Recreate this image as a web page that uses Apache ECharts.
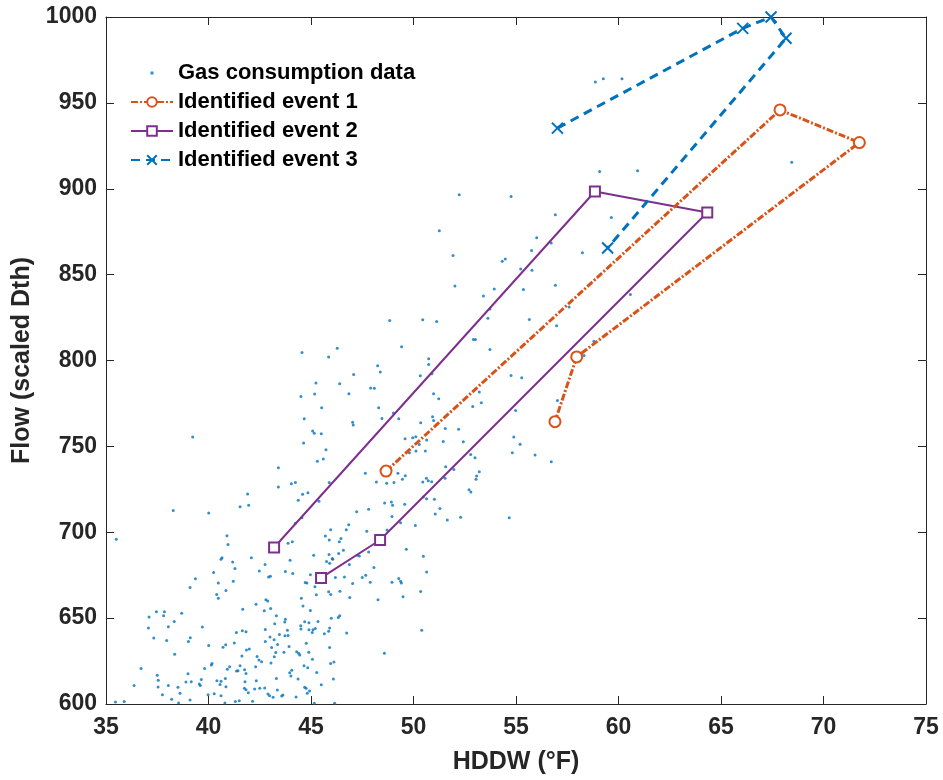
<!DOCTYPE html>
<html>
<head>
<meta charset="utf-8">
<script src="https://cdn.jsdelivr.net/npm/echarts@6/dist/echarts.min.js"></script>
<style>html,body{margin:0;padding:0;background:#fff}#c{width:943px;height:780px}</style>
</head>
<body>
<div id="c"></div>
<script>
// ---- data ----
const xTicksMin = 35, xTicksMax = 75, xStep = 5;
const yTicksMin = 600, yTicksMax = 1000, yStep = 50;

const gasPoints = [
[41.18,682.7],[42.76,681.2],[43.98,683.7],[41.29,678.9],[42.48,677.5],[40.25,676.5],[43.02,674.4],[42.93,674.0],[43.75,677.1],[44.11,676.0],
[39.36,672.9],[40.48,670.5],[41.21,671.5],[39.10,667.8],[40.85,666.1],[40.40,663.8],[40.48,661.6],[44.72,670.7],[42.80,660.7],[42.89,659.9],
[42.32,658.1],[43.03,655.6],[41.67,655.2],[42.72,654.3],[44.53,661.6],[44.61,657.0],[37.46,653.7],[37.85,653.7],[37.81,651.4],[38.69,652.9],
[37.10,650.6],[43.31,651.4],[43.75,649.4],[43.72,647.7],[43.23,646.7],[38.33,648.1],[44.69,647.9],[38.04,645.0],[37.07,644.2],[39.70,644.8],
[41.36,641.7],[41.65,642.6],[41.83,642.1],[42.77,643.4],[43.85,643.0],[43.46,640.5],[43.73,639.7],[43.88,639.9],[44.50,645.5],[44.51,643.6],
[37.33,638.4],[39.11,638.6],[39.02,636.4],[37.96,637.0],[43.00,639.0],[42.77,636.4],[43.20,637.4],[41.26,635.5],[40.01,634.1],[40.84,634.5],
[40.71,633.0],[43.37,634.7],[43.08,632.9],[43.93,633.5],[41.99,632.0],[41.85,631.4],[43.68,630.2],[43.28,630.0],[44.30,630.4],[44.40,629.5],
[44.45,628.5],[38.35,628.9],[41.63,627.9],[42.37,627.7],[43.21,627.5],[42.46,625.6],[42.59,624.6],[42.30,621.7],[43.05,623.8],[36.71,620.7],
[39.81,620.7],[40.17,623.6],[40.14,622.7],[40.92,620.2],[41.03,621.7],[41.54,622.3],[41.37,619.2],[41.44,619.4],[41.76,620.0],[41.83,617.8],
[44.06,619.6],[43.96,618.2],[44.02,616.3],[44.66,622.3],[37.50,616.7],[39.00,617.6],[43.31,614.9],[44.37,614.5],[37.55,613.8],[38.90,612.8],
[39.16,613.0],[39.65,614.2],[39.55,611.6],[39.60,610.8],[40.41,613.6],[40.61,613.2],[40.56,611.4],[40.82,614.9],[40.85,610.1],[41.78,613.0],
[42.33,613.6],[36.37,610.7],[37.54,609.9],[38.04,610.7],[38.51,609.7],[41.75,609.1],[41.83,608.3],[42.25,608.7],[42.50,609.1],[42.74,609.3],
[43.36,608.1],[44.69,609.7],[41.94,606.6],[38.61,606.2],[37.75,605.4],[42.90,605.8],[42.98,604.8],[43.57,604.6],[43.63,605.2],[43.15,603.9],
[39.98,605.4],[40.28,606.0],[40.61,604.8],[44.27,604.1],[38.20,602.7],[39.10,602.3],[41.50,601.9],[41.31,601.4],[42.15,601.6],[35.46,601.2],
[35.89,601.4],[38.54,600.6],[40.80,600.6],
[44.67,766.1],[44.64,751.9],[39.23,755.4],[43.41,737.6],[43.41,726.3],[44.04,728.3],[44.24,728.9],[44.59,722.1],[44.38,718.6],[41.91,722.3],
[41.54,714.9],[41.96,715.7],[38.28,712.6],[40.01,711.2],[44.56,708.5],[44.24,705.2],[35.50,695.9],[40.90,698.0],[40.95,692.8],[43.88,693.6],
[44.09,694.5],[40.66,685.2],[40.61,684.3],[42.09,685.2],[43.20,691.1],
[45.76,682.9],[45.91,682.0],[46.06,684.3],[46.87,681.2],[48.07,679.5],[44.97,675.2],[45.50,673.6],[44.80,670.5],[45.19,668.2],[46.19,673.6],
[46.63,674.0],[47.50,673.6],[47.67,675.0],[47.89,670.9],[47.03,670.2],[48.95,670.9],[49.28,673.1],[49.37,671.5],[49.41,670.5],[50.64,676.9],
[50.35,665.5],[49.49,662.4],[45.86,665.3],[45.96,663.8],[45.26,663.6],[46.41,665.7],[46.89,662.0],[48.27,660.7],[44.97,654.5],[44.90,647.3],
[45.34,648.1],[45.99,650.0],[46.33,650.4],[46.40,651.4],[44.90,643.2],[45.10,643.2],[45.21,644.0],[45.06,641.7],[45.65,640.9],[45.86,642.4],
[45.91,644.2],[46.74,641.3],[50.40,643.0],[44.77,635.3],[45.91,632.9],[44.89,630.2],[45.07,626.0],[45.96,623.6],[46.12,624.4],[48.58,629.5],
[44.84,621.1],[45.28,618.4],[46.09,614.5],[45.50,611.2],[44.76,609.1],[44.93,607.6],[44.82,606.2],[45.16,600.4],[46.15,600.4],
[45.52,772.5],[48.30,772.5],[49.02,769.5],[49.28,766.1],[47.03,764.1],[47.06,762.4],[48.46,766.3],[45.08,758.9],[45.16,757.7],[45.50,757.3],
[45.73,748.0],[45.60,742.6],[45.31,741.4],[50.93,767.2],[50.98,765.1],[50.35,763.7],[52.89,773.2],[53.31,775.4],[51.55,760.4],[52.20,759.9],
[49.59,754.4],[49.96,755.0],[50.11,755.6],[50.64,753.7],[51.45,752.9],[52.43,752.7],[50.28,751.1],[50.12,747.3],[50.58,747.3],[49.80,746.3],
[52.79,745.3],[53.00,743.4],[47.65,734.3],[48.66,735.6],[49.24,734.3],[49.60,732.9],[49.46,730.8],[49.05,729.0],[48.19,729.2],[48.69,728.5],
[51.57,738.2],[51.97,736.6],[50.63,731.4],[50.72,730.0],[50.89,729.4],[50.45,729.2],[51.54,731.4],[53.21,735.2],[53.08,732.7],[53.05,730.8],
[52.71,724.8],[52.80,723.4],[45.89,728.9],[44.85,723.0],[45.39,718.0],[50.48,720.5],[50.64,719.5],[51.02,719.2],[48.59,717.0],[48.92,717.6],
[48.98,715.7],[49.57,716.3],[51.29,713.9],[51.06,710.6],[47.23,712.0],[47.81,713.4],[48.95,709.1],[51.65,707.1],[52.30,708.7],[49.37,705.6],
[50.09,704.0],[46.84,704.4],[46.72,701.5],[45.96,701.5],[45.70,697.8],[45.89,695.5],[46.38,694.5],[46.46,696.3],[47.72,700.6],[48.71,701.3],
[48.32,695.5],[49.65,690.1],[45.13,686.6],[45.88,687.0],[46.04,684.7],[46.35,687.6],[46.58,689.5],[47.26,686.6],[47.36,686.2],[47.81,688.5],
[50.48,686.0],
[51.26,875.6],[51.93,861.1],[52.02,843.4],[48.84,823.3],[50.45,823.7],[51.13,822.7],[52.92,812.2],[53.02,812.2],[49.42,808.0],[44.56,804.7],
[46.28,807.2],[45.86,802.0],[50.74,801.0],[50.74,797.7],[48.25,796.9],[48.38,793.3],[47.08,791.9],[50.33,791.1],[50.90,792.3],[45.24,786.9],
[46.40,786.5],[47.91,784.0],[48.09,783.8],[44.51,779.1],[45.18,780.5],[46.85,780.7],[50.98,780.7],[51.23,777.8],[53.21,781.6],
[58.87,962.2],[59.26,964.1],[60.17,964.0],[59.08,910.1],[60.93,910.5],[54.76,895.5],[56.92,884.9],[59.65,883.3],[56.01,871.5],[55.76,864.0],
[56.72,868.4],[58.24,862.8],[54.33,857.8],[54.48,859.1],[55.23,853.3],[55.78,852.5],[53.94,841.7],[53.41,837.6],[55.36,841.3],[56.92,843.8],
[53.73,830.0],[57.59,831.2],[60.58,838.4],[53.63,824.6],[55.65,823.8],[56.98,820.3],[53.73,806.4],[58.80,811.2],[58.32,802.9],[54.76,791.3],
[55.28,789.9],[57.02,776.7],[54.98,770.9],[54.89,755.4],[55.20,751.2],[54.82,746.3],[55.93,745.0],[56.72,741.1],
[54.67,708.5],[68.45,915.5],[52.23,896.5]
];

const event1HDDW = [48.66, 67.88, 71.75, 57.96, 56.90];
const event1Flow = [735.6, 945.9, 926.9, 802.1, 764.4];
const event2HDDW = [43.20, 58.85, 64.33, 48.37, 45.49];
const event2Flow = [691.1, 898.4, 886.2, 695.5, 673.4];
const event3HDDW = [57.02, 66.06, 67.44, 68.17, 59.47];
const event3Flow = [935.3, 993.4, 1000.0, 987.6, 865.5];

const seriesNames = ['Gas consumption data', 'Identified event 1', 'Identified event 2', 'Identified event 3'];
const xTitle = 'HDDW (°F)';
const yTitle = 'Flow (scaled Dth)';

// ---- chart ----
const zip = (a, b) => a.map((v, i) => [v, b[i]]);
const FONT = '"Liberation Sans", Arial, Helvetica, sans-serif';
const AX = '#262626';
const BLUE = '#0072BD', ORANGE = '#D95319', PURPLE = '#7E2F8E';

const chart = echarts.init(document.getElementById('c'), null, {renderer: 'canvas'});

const baseX = {
  type: 'value', min: xTicksMin, max: xTicksMax, interval: xStep,
  axisLine: {show: true, onZero: false, lineStyle: {color: AX, width: 1}},
  axisTick: {show: true, inside: true, length: 8, lineStyle: {color: AX}},
  splitLine: {show: false}
};
const baseY = {
  type: 'value', min: yTicksMin, max: yTicksMax, interval: yStep,
  axisLine: {show: true, onZero: false, lineStyle: {color: AX, width: 1}},
  axisTick: {show: true, inside: true, length: 8, lineStyle: {color: AX}},
  splitLine: {show: false}
};
const plainNum = v => String(v);

chart.setOption({
  backgroundColor: '#fff',
  animation: false,
  grid: {left: 106, right: 17, top: 17, bottom: 75, containLabel: false},
  legend: {
    data: [
      {name: seriesNames[0], icon: 'path://M0,0M42,12M19.5,4.5L22.5,4.5L22.5,7.5L19.5,7.5Z'},
      seriesNames[1], seriesNames[2], seriesNames[3]
    ],
    orient: 'vertical',
    left: 125, top: 57, padding: 5,
    itemWidth: 42, itemHeight: 12, itemGap: 7,
    textStyle: {fontFamily: FONT, fontWeight: 'bold', fontSize: 22, color: '#000'},
    selectedMode: false
  },
  xAxis: [
    Object.assign({}, baseX, {
      position: 'bottom',
      name: xTitle, nameLocation: 'middle', nameGap: 46,
      nameTextStyle: {fontFamily: FONT, fontWeight: 'bold', fontSize: 25, color: AX},
      axisLabel: {fontFamily: FONT, fontWeight: 'bold', fontSize: 23, color: AX, margin: 12, formatter: plainNum}
    }),
    Object.assign({}, baseX, {position: 'top', axisLabel: {show: false}})
  ],
  yAxis: [
    Object.assign({}, baseY, {
      position: 'left',
      name: yTitle, nameLocation: 'middle', nameGap: 67, nameRotate: 90,
      nameTextStyle: {fontFamily: FONT, fontWeight: 'bold', fontSize: 25, color: AX},
      axisLabel: {fontFamily: FONT, fontWeight: 'bold', fontSize: 23, color: AX, margin: 9, formatter: plainNum}
    }),
    Object.assign({}, baseY, {position: 'right', axisLabel: {show: false}})
  ],
  series: [
    {
      name: seriesNames[0], type: 'scatter',
      data: gasPoints, symbol: 'circle', symbolSize: 3,
      itemStyle: {color: BLUE}, z: 2
    },
    {
      name: seriesNames[1], type: 'line',
      data: zip(event1HDDW, event1Flow),
      symbol: 'emptyCircle', symbolSize: 11, showAllSymbol: true, clip: false,
      itemStyle: {color: ORANGE, borderColor: ORANGE, borderWidth: 2},
      lineStyle: {color: ORANGE, width: 3, type: [7, 2, 2, 2]},
      z: 4
    },
    {
      name: seriesNames[2], type: 'line',
      data: zip(event2HDDW, event2Flow),
      symbol: 'emptyRect', symbolSize: 10, showAllSymbol: true, clip: false,
      itemStyle: {color: PURPLE, borderColor: PURPLE, borderWidth: 2},
      lineStyle: {color: PURPLE, width: 2, type: 'solid'},
      z: 3
    },
    {
      name: seriesNames[3], type: 'line',
      data: zip(event3HDDW, event3Flow),
      symbol: 'path://M0,0L10,10M10,0L0,10', symbolSize: 11, showAllSymbol: true, clip: false,
      itemStyle: {color: 'rgba(0,0,0,0)', borderColor: BLUE, borderWidth: 2},
      lineStyle: {color: BLUE, width: 3, type: [9, 6]},
      z: 5
    }
  ]
});
</script>
</body>
</html>
